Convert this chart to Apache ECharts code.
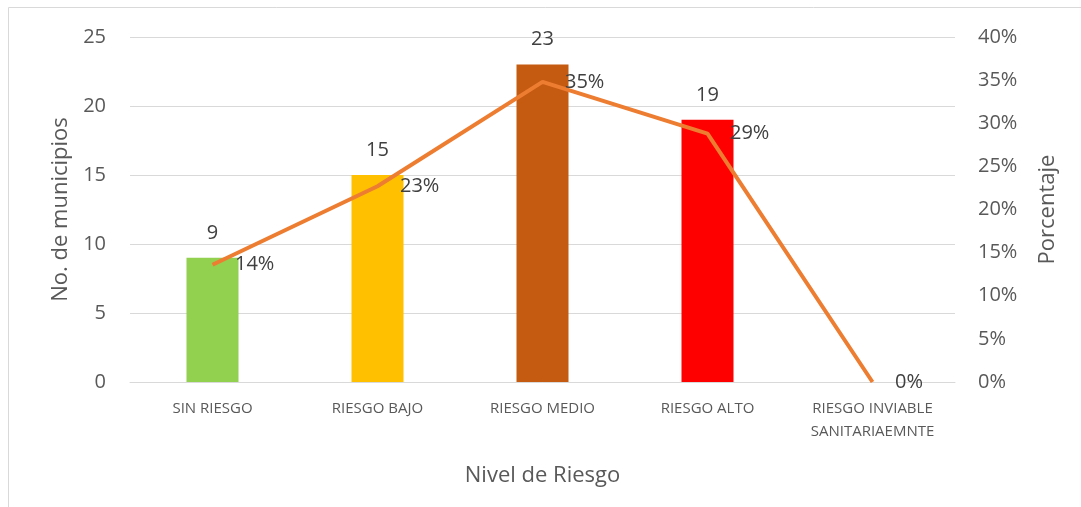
<!DOCTYPE html>
<html>
<head>
<meta charset="utf-8">
<script src="https://cdn.jsdelivr.net/npm/echarts@6/dist/echarts.min.js"></script>
<style>
html, body { margin: 0; padding: 0; background: #fff; }
#chart { width: 1081px; height: 507px; }
</style>
</head>
<body>
<div id="chart"></div>
<script>
var categories = ['SIN RIESGO', 'RIESGO BAJO', 'RIESGO MEDIO', 'RIESGO ALTO', 'RIESGO INVIABLE\nSANITARIAEMNTE'];
var municipios = [9, 15, 23, 19, 0];
var porcentaje = [13.6, 22.7, 34.8, 28.8, 0];
var barColors = ['#92D050', '#FFC000', '#C55A11', '#FF0000', '#5B9BD5'];

var dom = document.getElementById('chart');
var myChart = echarts.init(dom);
var font = '"Open Sans", "Liberation Sans", sans-serif';
var grey = '#595959';

var option = {
    animation: false,
    textStyle: { fontFamily: font },
    graphic: [{
        type: 'rect',
        shape: { x: 8.5, y: 7.5, width: 1090, height: 520 },
        style: { fill: 'none', stroke: '#D9D9D9', lineWidth: 1 }
    }],
    grid: { left: 130, right: 126, top: 37, bottom: 125 },
    xAxis: {
        type: 'category',
        data: categories,
        name: 'Nivel de Riesgo',
        nameLocation: 'middle',
        nameGap: 83,
        nameTextStyle: { fontSize: 22, color: grey, fontFamily: font },
        axisLine: { lineStyle: { color: '#D9D9D9', width: 1 } },
        axisTick: { show: false },
        axisLabel: { fontSize: 15, color: grey, margin: 15, lineHeight: 23, fontFamily: font, interval: 0 }
    },
    yAxis: [{
        type: 'value',
        min: 0, max: 25, interval: 5,
        name: 'No. de municipios',
        nameLocation: 'middle',
        nameGap: 56,
        nameTextStyle: { fontSize: 22, color: grey, fontFamily: font },
        axisLine: { show: false },
        axisTick: { show: false },
        axisLabel: { fontSize: 20, color: grey, margin: 24, fontFamily: font },
        splitLine: { lineStyle: { color: '#D9D9D9', width: 1 } }
    }, {
        type: 'value',
        min: 0, max: 40, interval: 5,
        name: 'Porcentaje',
        nameLocation: 'middle',
        nameGap: 82,
        nameRotate: 90,
        nameTextStyle: { fontSize: 22, color: grey, fontFamily: font },
        axisLine: { show: false },
        axisTick: { show: false },
        axisLabel: { fontSize: 20, color: grey, margin: 23, fontFamily: font, formatter: '{value}%' },
        splitLine: { show: false }
    }],
    series: [{
        name: 'Municipios',
        type: 'bar',
        barWidth: 52,
        data: municipios.map(function (v, i) {
            return { value: v, itemStyle: { color: barColors[i] } };
        }),
        label: {
            show: true,
            position: 'top',
            distance: 15,
            fontSize: 20,
            color: '#404040',
            fontFamily: font,
            formatter: function (p) { return p.value ? p.value : ''; }
        }
    }, {
        name: 'Porcentaje',
        type: 'line',
        yAxisIndex: 1,
        data: porcentaje,
        symbol: 'circle',
        symbolSize: 1,
        showSymbol: true,
        itemStyle: { color: 'rgba(237,125,49,0)' },
        lineStyle: { color: '#ED7D31', width: 4 },
        label: {
            show: true,
            position: 'right',
            distance: 22,
            offset: [0, 4],
            fontSize: 20,
            color: '#404040',
            fontFamily: font,
            formatter: function (p) { return Math.round(p.value) + '%'; }
        },
        labelLayout: { hideOverlap: false }
    }]
};

myChart.setOption(option, true);
</script>
</body>
</html>
